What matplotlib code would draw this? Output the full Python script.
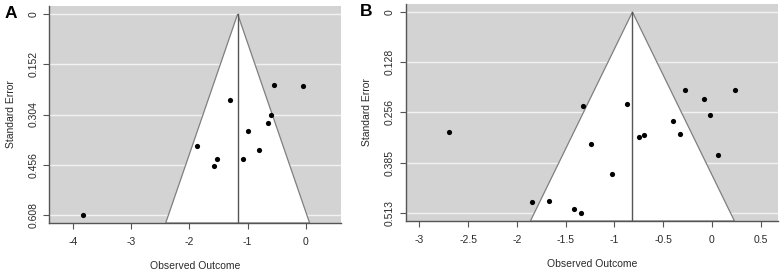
import matplotlib
matplotlib.use("Agg")
import matplotlib.pyplot as plt
import numpy as np

plt.rcParams['font.family'] = ['Liberation Sans', 'DejaVu Sans']

# Panel A data
a_x = [-3.84, -0.55, -0.04, -1.30, -0.59, -0.655, -0.99, -1.87, -0.80, -1.52, -1.07, -1.58]
a_se = [0.608, 0.214, 0.218, 0.260, 0.305, 0.330, 0.354, 0.399, 0.410, 0.438, 0.438, 0.460]
a_center = -1.17
a_yticks = [0, 0.152, 0.304, 0.456, 0.608]
a_yticklabels = ["0", "0.152", "0.304", "0.456", "0.608"]
a_xticks = [-4, -3, -2, -1, 0]
a_xticklabels = ["-4", "-3", "-2", "-1", "0"]
a_xlim = (-4.414, 0.61)

# Panel B data
b_x = [-2.70, -1.32, -0.874, -0.276, 0.234, -0.081, -0.020, -0.402, -0.324, -0.751,
       -0.693, -1.237, 0.062, -1.024, -1.841, -1.667, -1.411, -1.339]
b_se = [0.306, 0.241, 0.236, 0.199, 0.198, 0.2225, 0.264, 0.278, 0.311, 0.318,
        0.315, 0.336, 0.364, 0.414, 0.484, 0.483, 0.504, 0.512]
b_center = -0.815
b_yticks = [0, 0.128, 0.256, 0.385, 0.513]
b_yticklabels = ["0", "0.128", "0.256", "0.385", "0.513"]
b_xticks = [-3, -2.5, -2, -1.5, -1, -0.5, 0, 0.5]
b_xticklabels = ["-3", "-2.5", "-2", "-1.5", "-1", "-0.5", "0", "0.5"]
b_xlim = (-3.139, 0.674)

fig = plt.figure(figsize=(7.8, 2.76), dpi=100)

TXT = '#2a2a2a'

def funnel(ax, xs, ses, center, yticks, ylabels, xticks, xlabels, xlim, ymax):
    pad = ymax * 0.04
    ylo, yhi = -pad, ymax + pad
    ax.set_facecolor('#d3d3d3')
    ax.set_xlim(*xlim)
    ax.set_ylim(yhi, ylo)
    for t in yticks:
        ax.axhline(t, color='#f2f2f2', lw=1.0, zorder=1)
    half = 1.96 * yhi
    ax.fill([center - half, center, center + half], [yhi, 0, yhi],
            facecolor='white', edgecolor='#7f7f7f', lw=0.9, zorder=2)
    ax.plot([center, center], [0, yhi], color='#555555', lw=1.0, zorder=3)
    ax.scatter(xs, ses, s=14, color='black', zorder=4, linewidths=0)
    for s in ['top', 'right']:
        ax.spines[s].set_visible(False)
    for s in ['left', 'bottom']:
        ax.spines[s].set_color('#555555')
        ax.spines[s].set_linewidth(1.0)
    ax.set_yticks(yticks)
    ax.set_yticklabels(ylabels, rotation=90, va='center', fontsize=7.5, color=TXT)
    ax.set_xticks(xticks)
    ax.set_xticklabels(xlabels, fontsize=7.5, color=TXT)
    ax.tick_params(axis='both', length=4, width=0.8, color='#555555')
    ax.tick_params(axis='x', pad=6)
    ax.tick_params(axis='y', pad=4)
    ax.set_xlabel("Observed Outcome", fontsize=7.5, color=TXT, labelpad=10)
    ax.set_ylabel("Standard Error", fontsize=7.5, color=TXT, labelpad=9)

axA = fig.add_axes([49.3/780, (276-223)/276, 291.7/780, 217/276])
funnel(axA, a_x, a_se, a_center, a_yticks, a_yticklabels, a_xticks, a_xticklabels, a_xlim, 0.608)
axB = fig.add_axes([405.7/780, (276-221)/276, 372/780, 217/276])
funnel(axB, b_x, b_se, b_center, b_yticks, b_yticklabels, b_xticks, b_xticklabels, b_xlim, 0.513)

fig.text(11/780, 1 - 13/276, "A", fontsize=12.5, fontweight='bold', ha='center', va='center', color='black')
fig.text(366/780, 1 - 12/276, "B", fontsize=12.5, fontweight='bold', ha='center', va='center', color='black')

fig.savefig("out.png", dpi=100)
